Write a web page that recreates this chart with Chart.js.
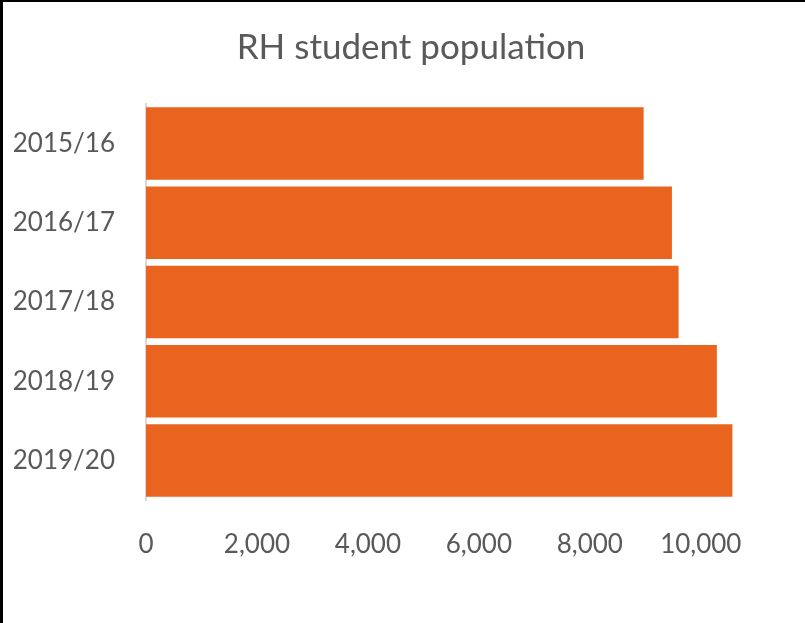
<!DOCTYPE html>
<html>
<head>
<meta charset="utf-8">
<script src="https://cdn.jsdelivr.net/npm/chart.js@4/dist/chart.umd.min.js"></script>
<style>
  html, body { margin: 0; padding: 0; background: #fff; overflow: hidden; }
  #frame {
    position: absolute; left: 0; top: 0;
    width: 802px; height: 621px;
    border-left: 3px solid #000; border-top: 2px solid #000;
  }
</style>
</head>
<body>
<div id="frame"><canvas id="chart"></canvas></div>
<script>
const years = ['2015/16', '2016/17', '2017/18', '2018/19', '2019/20'];
const students = [8970, 9480, 9600, 10290, 10570];
const tickValues = [0, 2000, 4000, 6000, 8000, 10000];
const axisMax = 11500;
const chartTitle = 'RH student population';

const textColour = '#595959';
const fontFamily = 'Lato, "Open Sans", sans-serif';

const ctx = document.getElementById('chart');
new Chart(ctx, {
  type: 'bar',
  data: {
    labels: years,
    datasets: [{
      label: 'Students',
      data: students,
      backgroundColor: '#E9651F',
      borderWidth: 0,
      categoryPercentage: 1,
      barPercentage: 0.915
    }]
  },
  options: {
    indexAxis: 'y',
    responsive: true,
    maintainAspectRatio: false,
    animation: false,
    layout: { padding: { left: 0, right: 21, top: 102, bottom: 0 } },
    plugins: {
      legend: { display: false },
      tooltip: { enabled: false },
      title: { display: false }
    },
    scales: {
      x: {
        min: 0,
        max: axisMax,
        grid: { display: false, drawTicks: false },
        border: { display: false },
        // only the round thousands get a label, like the original
        afterBuildTicks(scale) {
          scale.ticks = tickValues.map(v => ({ value: v }));
        },
        afterFit(scale) { scale.height = 123; },
        ticks: {
          autoSkip: false,
          padding: 29,
          maxRotation: 0,
          color: textColour,
          font: { family: fontFamily, size: 26 },
          callback(value) {
            return Number(value).toLocaleString('en-GB');
          }
        }
      },
      y: {
        grid: { display: false, drawTicks: false },
        border: { display: true, color: '#d9d9d9', width: 2 },
        afterFit(scale) { scale.width = 143; },
        ticks: {
          padding: 31,
          color: textColour,
          font: { family: fontFamily, size: 26 }
        }
      }
    }
  },
  plugins: [{
    // the original title sits a bit right of the canvas centre
    id: 'offsetTitle',
    afterDraw(chart) {
      const c = chart.ctx;
      c.save();
      c.font = `35px ${fontFamily}`;
      c.fillStyle = textColour;
      c.textAlign = 'center';
      c.textBaseline = 'middle';
      c.fillText(chartTitle, 408, 46);
      c.restore();
    }
  }]
});
</script>
</body>
</html>
